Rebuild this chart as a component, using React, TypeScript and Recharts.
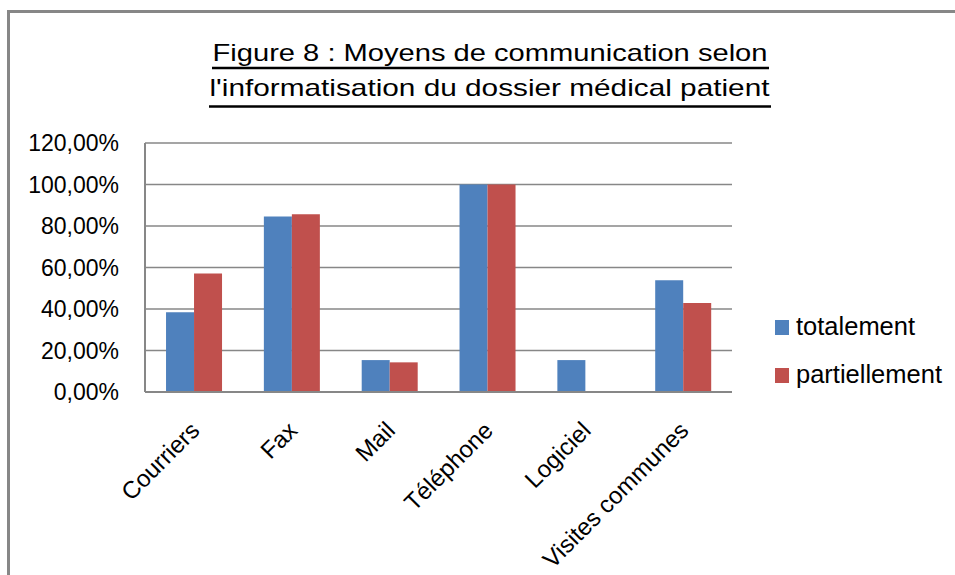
import React from 'react';
import { BarChart, Bar, XAxis, YAxis, CartesianGrid, Legend } from 'recharts';

const categories = ['Courriers', 'Fax', 'Mail', 'Téléphone', 'Logiciel', 'Visites communes'];
const totalement = [0.3846, 0.8462, 0.1538, 1.0, 0.1538, 0.5385];
const partiellement = [0.5714, 0.8571, 0.1429, 1.0, 0, 0.4286];
const yTicks = [0, 0.2, 0.4, 0.6, 0.8, 1.0, 1.2];
const seriesNames = ['totalement', 'partiellement'];
const titleLines = ['Figure 8 : Moyens de communication selon', "l'informatisation du dossier médical patient"];

const data = categories.map((c, i) => ({ name: c, totalement: totalement[i], partiellement: partiellement[i] }));

const FONT = "'Liberation Sans', Arial, sans-serif";
const GRID = '#878787';

const fmt = (v: number) => (v * 100).toFixed(2).replace('.', ',') + '%';

const XTick = (props: any) => {
  const { x, y, payload } = props;
  return (
    <g transform={`translate(${x + 7},${y + 40}) rotate(-45)`}>
      <text textAnchor="end" fontSize={24} fontFamily={FONT} fill="#000">
        {payload.value}
      </text>
    </g>
  );
};

const LegendContent = (props: any) => {
  const payload = [...(props.payload || [])].sort(
    (a: any, b: any) => seriesNames.indexOf(a.value) - seriesNames.indexOf(b.value)
  );
  return (
    <svg width={180} height={90} style={{ overflow: 'visible' }}>
      {payload.map((p: any, i: number) => (
        <g key={i} transform={`translate(0, ${i * 48})`}>
          <rect x={0} y={10} width={14} height={15} fill={p.color} />
          <text x={21} y={24.7} fontSize={25.5} fontFamily={FONT} fill="#000">
            {p.value}
          </text>
        </g>
      ))}
    </svg>
  );
};

export default function App() {
  return (
    <div style={{ position: 'absolute', left: 0, top: 0, width: 955, height: 575, background: '#fff', overflow: 'hidden' }}>
      <div
        style={{
          position: 'absolute',
          left: 7,
          top: 10,
          width: 960,
          height: 580,
          borderTop: `3px solid ${GRID}`,
          borderLeft: `3px solid ${GRID}`,
          boxSizing: 'border-box',
        }}
      />
      <BarChart
        width={955}
        height={575}
        data={data}
        margin={{ top: 143, right: 223, bottom: 0, left: 0 }}
        barCategoryGap="21.5%"
        barGap={0}
        style={{ position: 'absolute', left: 0, top: 0 }}
      >
        <CartesianGrid vertical={false} stroke={GRID} strokeWidth={1.5} />
        <XAxis
          dataKey="name"
          height={183}
          interval={0}
          tickLine={false}
          tickSize={0}
          tickMargin={0}
          axisLine={{ stroke: GRID, strokeWidth: 2 }}
          tick={<XTick />}
        />
        <YAxis
          width={145}
          domain={[0, 1.2]}
          ticks={yTicks}
          tickFormatter={fmt}
          tickLine={false}
          tickSize={0}
          tickMargin={26}
          axisLine={{ stroke: GRID, strokeWidth: 2 }}
          tick={{ fontSize: 23, fontFamily: FONT, fill: '#000' }}
        />
        <Legend
          layout="vertical"
          align="center"
          verticalAlign="middle"
          wrapperStyle={{ left: 775, top: 310, width: 180 }}
          content={<LegendContent />}
        />
        <Bar dataKey="totalement" name={seriesNames[0]} fill="#4F81BD" isAnimationActive={false} />
        <Bar dataKey="partiellement" name={seriesNames[1]} fill="#C0504D" isAnimationActive={false} />
      </BarChart>
      <svg width={955} height={130} style={{ position: 'absolute', left: 0, top: 0, pointerEvents: 'none' }}>
        <text x={490} y={60.7} textAnchor="middle" fontSize={24} fontFamily={FONT} fill="#000" textLength={555} lengthAdjust="spacingAndGlyphs">
          {titleLines[0]}
        </text>
        <line x1={212} x2={769} y1={68} y2={68} stroke="#000" strokeWidth={2.5} />
        <text x={489.5} y={96} textAnchor="middle" fontSize={24} fontFamily={FONT} fill="#000" textLength={560} lengthAdjust="spacingAndGlyphs">
          {titleLines[1]}
        </text>
        <line x1={209} x2={771} y1={106.5} y2={106.5} stroke="#000" strokeWidth={2.5} />
      </svg>
    </div>
  );
}
